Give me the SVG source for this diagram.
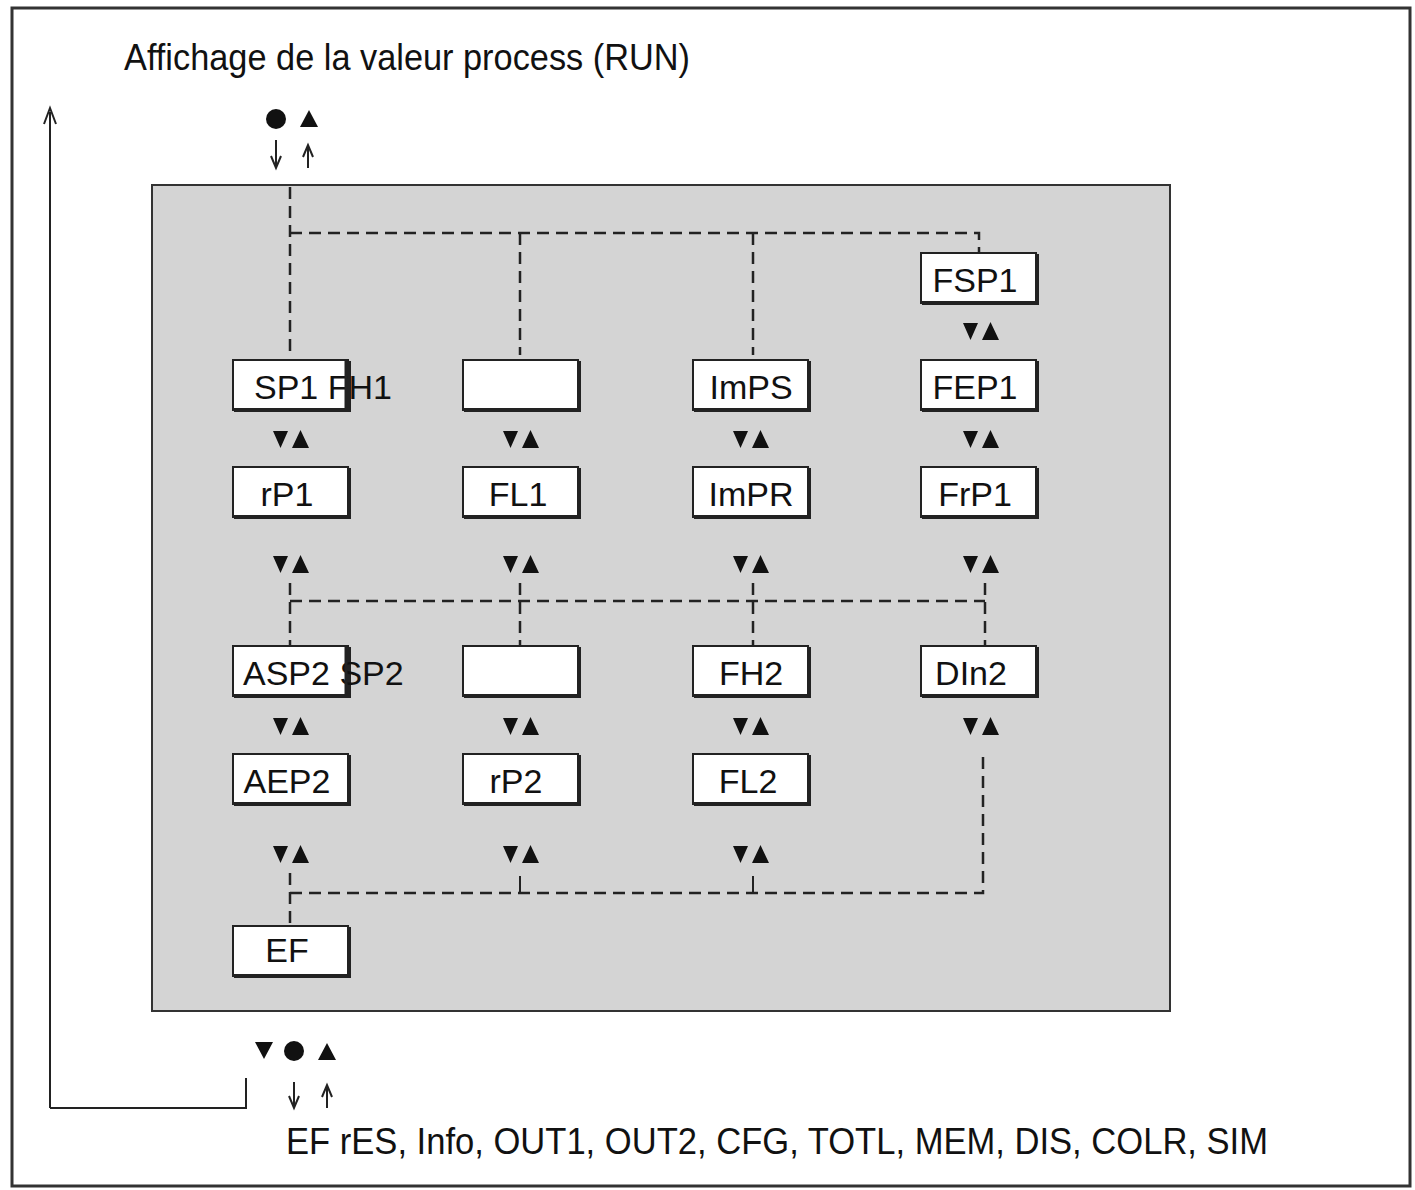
<svg xmlns="http://www.w3.org/2000/svg" width="1415" height="1190" viewBox="0 0 1415 1190">
<style>
text{font-family:"Liberation Sans",Arial,sans-serif;fill:#111}
.lbl{font-size:34px;text-anchor:middle}
.box{fill:#fff;stroke:#222;stroke-width:2}
.sh{stroke:#222;stroke-width:4;fill:none}
.d{stroke:#222;stroke-width:2.5;fill:none;stroke-dasharray:12 7}
.s{stroke:#222;stroke-width:2;fill:none}
.t{fill:#111}
</style>
<defs>
<g id="ud"><path class="t" d="M-19,-9 h15 l-7.5,17 z M0,8 h17 l-8.5,-18 z"/></g>
<g id="bx"><rect class="box" x="0" y="0" width="115" height="50"/><path class="sh" d="M1,50 H116 V1"/></g>
</defs>
<rect x="0" y="0" width="1415" height="1190" fill="#fff"/>
<rect x="12" y="8" width="1398" height="1178" fill="none" stroke="#333" stroke-width="3"/>
<text x="124" y="70" font-size="36" textLength="566" lengthAdjust="spacingAndGlyphs">Affichage de la valeur process (RUN)</text>
<rect x="152" y="185" width="1018" height="826" fill="#d4d4d4" stroke="#333" stroke-width="2"/>
<g id="connectors">
<path class="s" d="M50,1108 V112 M246,1078 V1108 H50" />
<path d="M44,124 L50,108 L56,124" fill="none" stroke="#222" stroke-width="2"/>
<path class="d" d="M290,187 V355 M290,233 H979 V253 M520,233 V355 M753,233 V355"/>
<path class="d" d="M290,583 V645 M290,601 H985 M520,583 V645 M753,583 V645 M985,583 V645"/>
<path class="d" d="M290,873 V925 M290,893 H983 V755"/>
<path class="s" d="M520,876 V893 M753,876 V893"/>
<circle cx="276" cy="119" r="10" fill="#111"/><path class="t" d="M300,127 h18 l-9,-17 z"/>
<path class="s" d="M276,140 V166 M271,156 L276,168 L281,156 M308,168 V146 M303,157 L308,145 L313,157"/>
<path class="t" d="M255,1042 h18 l-9,17 z M318,1060 h18 l-9,-17 z"/><circle cx="294" cy="1051" r="10" fill="#111"/>
<path class="s" d="M294,1082 V1106 M289,1096 L294,1108 L299,1096 M327,1108 V1086 M322,1097 L327,1085 L332,1097"/>
</g>
<g id="arrows">
<use href="#ud" x="292" y="332" transform="translate(690,0)"/>
<use href="#ud" x="292" y="440"/><use href="#ud" x="522" y="440"/><use href="#ud" x="752" y="440"/><use href="#ud" x="982" y="440"/>
<use href="#ud" x="292" y="565"/><use href="#ud" x="522" y="565"/><use href="#ud" x="752" y="565"/><use href="#ud" x="982" y="565"/>
<use href="#ud" x="292" y="727"/><use href="#ud" x="522" y="727"/><use href="#ud" x="752" y="727"/><use href="#ud" x="982" y="727"/>
<use href="#ud" x="292" y="855"/><use href="#ud" x="522" y="855"/><use href="#ud" x="752" y="855"/>
</g>
<g id="FSP1"><use href="#bx" x="921" y="253"/><text class="lbl" x="975" y="292">FSP1</text></g>
<g id="SP1"><use href="#bx" x="233" y="360"/><text x="254" y="399" font-size="34">SP1 FH1</text><path d="M346,361 V410" stroke="#222" stroke-width="3"/></g>
<g id="blank1"><use href="#bx" x="463" y="360"/></g>
<g id="ImPS"><use href="#bx" x="693" y="360"/><text class="lbl" x="751" y="399">ImPS</text></g>
<g id="FEP1"><use href="#bx" x="921" y="360"/><text class="lbl" x="975" y="399">FEP1</text></g>
<g id="rP1"><use href="#bx" x="233" y="467"/><text class="lbl" x="287" y="506">rP1</text></g>
<g id="FL1"><use href="#bx" x="463" y="467"/><text class="lbl" x="518" y="506">FL1</text></g>
<g id="ImPR"><use href="#bx" x="693" y="467"/><text class="lbl" x="751" y="506">ImPR</text></g>
<g id="FrP1"><use href="#bx" x="921" y="467"/><text class="lbl" x="975" y="506">FrP1</text></g>
<g id="ASP2"><use href="#bx" x="233" y="646"/><text x="243" y="685" font-size="34">ASP2 SP2</text><path d="M346,647 V696" stroke="#222" stroke-width="3"/></g>
<g id="blank2"><use href="#bx" x="463" y="646"/></g>
<g id="FH2"><use href="#bx" x="693" y="646"/><text class="lbl" x="751" y="685">FH2</text></g>
<g id="DIn2"><use href="#bx" x="921" y="646"/><text class="lbl" x="971" y="685">DIn2</text></g>
<g id="AEP2"><use href="#bx" x="233" y="754"/><text class="lbl" x="287" y="793">AEP2</text></g>
<g id="rP2"><use href="#bx" x="463" y="754"/><text class="lbl" x="516" y="793">rP2</text></g>
<g id="FL2"><use href="#bx" x="693" y="754"/><text class="lbl" x="748" y="793">FL2</text></g>
<g id="EF"><use href="#bx" x="233" y="926"/><text class="lbl" x="287" y="962">EF</text></g>
<text x="286" y="1154" font-size="36" textLength="982" lengthAdjust="spacingAndGlyphs">EF rES, Info, OUT1, OUT2, CFG, TOTL, MEM, DIS, COLR, SIM</text>
</svg>
